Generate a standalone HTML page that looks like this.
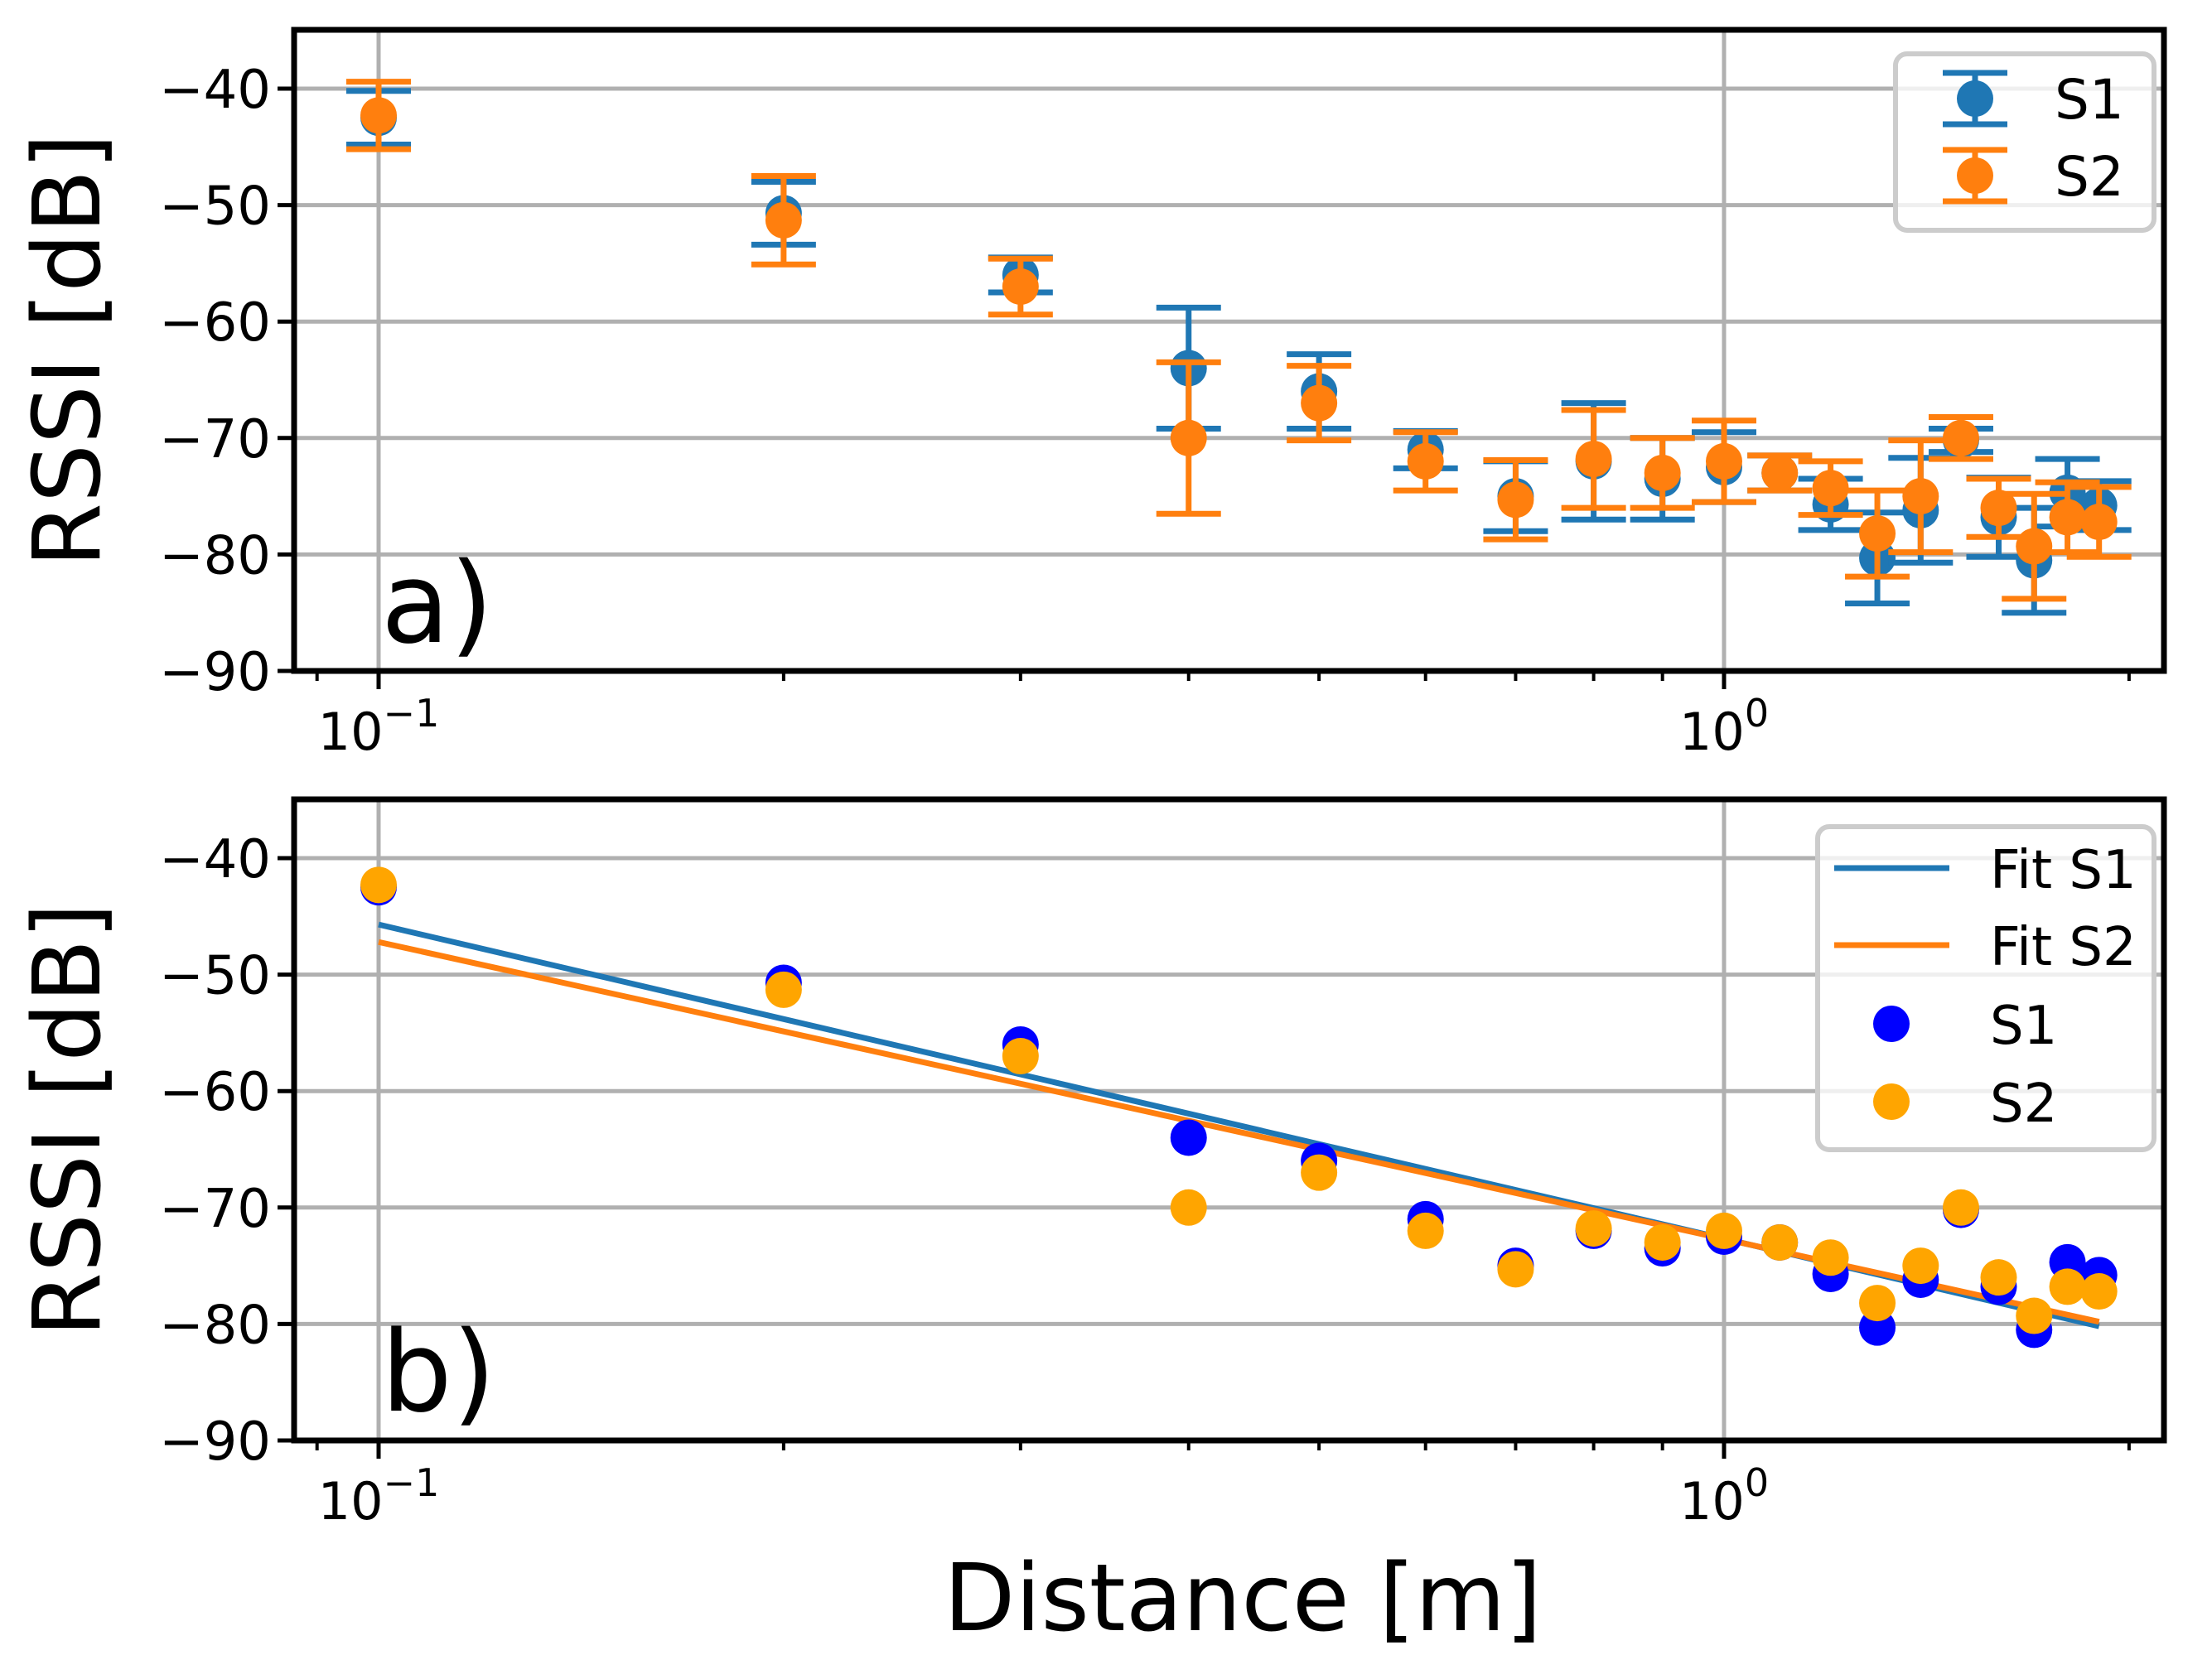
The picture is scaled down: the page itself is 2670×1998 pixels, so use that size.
<!DOCTYPE html>
<html><head><meta charset="utf-8"><style>
html,body{margin:0;padding:0;background:#fff;}
svg{display:block;font-family:"DejaVu Sans","Liberation Sans",sans-serif;}
</style></head><body>
<svg id="fig" width="2670" height="1998" viewBox="0 0 2670 1998" xmlns="http://www.w3.org/2000/svg">
<rect x="0" y="0" width="2670" height="1998" fill="#fff"/>
</svg>
<script>
// ---- data ----
const distances = [0.1,0.2,0.3,0.4,0.5,0.6,0.7,0.8,0.9,1.0,1.1,1.2,1.3,1.4,1.5,1.6,1.7,1.8,1.9];
const s1Mean = [-42.5,-50.7,-56,-64,-66,-71,-75,-72,-73.5,-72.5,-73,-75.7,-80.3,-76.2,-70.2,-76.8,-80.5,-74.7,-75.8];
const s2Mean = [-42.3,-51.3,-57,-70,-67,-72,-75.3,-71.8,-73,-72,-73,-74.3,-78.2,-75,-70,-76,-79.3,-76.8,-77.2];
const s1Err = [2.3,2.7,1.5,5.2,3.2,1.6,3,5,3.5,3,1.5,2.2,3.9,4.5,1,3.4,4.5,2.9,2.1];
const s2Err = [2.9,3.8,2.4,6.5,3.2,2.5,3.4,4.2,3,3.5,1.5,2.3,3.7,4.8,1.8,2.5,4.5,3,3];
const fitS1 = [-72.67,-26.97]; // value at 1 m, slope per decade
const fitS2 = [-72.7,-25.5];
const yTicks = [-40,-50,-60,-70,-80,-90];
const yTickLabels = ["\u221240","\u221250","\u221260","\u221270","\u221280","\u221290"];
const xMajor = [0.1,1];
const xMinor = [0.09,0.2,0.3,0.4,0.5,0.6,0.7,0.8,0.9,2];

const NS="http://www.w3.org/2000/svg";
const svg=document.getElementById('fig');
function mk(tag,attrs,parent){const e=document.createElementNS(NS,tag);for(const k in attrs)e.setAttribute(k,attrs[k]);(parent||svg).appendChild(e);return e;}
const L=355,R=2612;
const xs=d=>457+(Math.log10(d)+1)*1624;
function panel(top,bot,name){
  const ys=v=>top+71+(-40-v)*(bot-top-71)/50;
  const g=mk('g',{});
  
  
  yTicks.forEach((t,i)=>{
    const y=ys(t);
    const gl=mk('line',{x1:L,x2:R,y1:y,y2:y,stroke:'#b0b0b0','stroke-width':5},g);
    
    
    mk('line',{x1:L-20,x2:L,y1:y,y2:y,stroke:'#000','stroke-width':5},g);
    const tx=mk('text',{x:L-28,y:y+23,'text-anchor':'end','font-size':64},g);
    tx.textContent=yTickLabels[i];
    
    
  });
  xMajor.forEach((d,i)=>{
    const x=xs(d);
    const gl=mk('line',{x1:x,x2:x,y1:top,y2:bot,stroke:'#b0b0b0','stroke-width':5},g);
    
    
    mk('line',{x1:x,x2:x,y1:bot,y2:bot+22,stroke:'#000','stroke-width':5},g);
    const tx=mk('text',{x:x,y:bot+95,'text-anchor':'middle','font-size':62},g);
    tx.innerHTML=i==0?'10<tspan dy="-28" font-size="46">\u22121</tspan>':'10<tspan dy="-28" font-size="46">0</tspan>';
    
    
  });
  xMinor.forEach(d=>{const x=xs(d);mk('line',{x1:x,x2:x,y1:bot,y2:bot+12,stroke:'#000','stroke-width':4},g);});
  const yl=mk('text',{x:0,y:0,transform:`translate(120,${(top+bot)/2}) rotate(-90)`,'text-anchor':'middle','font-size':112},g);
  yl.textContent='RSSI [dB]';
  
  
  return {g,ys};
}
// top panel
const A=panel(36,810,'panel-a');
function errorbars(mean,err,color,name){
  distances.forEach((d,i)=>{
    const x=xs(d),y=A.ys(mean[i]),y1=A.ys(mean[i]+err[i]),y2=A.ys(mean[i]-err[i]);
    const g=mk('g',{},A.g);
    
    
    mk('line',{x1:x,x2:x,y1:y1,y2:y2,stroke:color,'stroke-width':7},g);
    mk('line',{x1:x-39,x2:x+39,y1:y1,y2:y1,stroke:color,'stroke-width':7},g);
    mk('line',{x1:x-39,x2:x+39,y1:y2,y2:y2,stroke:color,'stroke-width':7},g);
    mk('circle',{cx:x,cy:y,r:22,fill:color},g);
  });
}
errorbars(s1Mean,s1Err,'#1f77b4','s1-errorbar-point');
errorbars(s2Mean,s2Err,'#ff7f0e','s2-errorbar-point');
mk('rect',{x:L,y:36,width:R-L,height:774,fill:'none',stroke:'#000','stroke-width':7});
const la=mk('text',{x:460,y:775,'font-size':135});la.textContent='a)';

// legend a
const lga=mk('g',{});


mk('rect',{x:2288,y:65,width:312,height:213,rx:14,fill:'#fff','fill-opacity':0.8,stroke:'#cccccc','stroke-width':6},lga);
[['#1f77b4','S1',119],['#ff7f0e','S2',212]].forEach(([c,t,y])=>{
  const e=mk('g',{},lga);
  
  
  mk('line',{x1:2384,x2:2384,y1:y-31,y2:y+31,stroke:c,'stroke-width':7},e);
  mk('line',{x1:2345,x2:2423,y1:y-31,y2:y-31,stroke:c,'stroke-width':7},e);
  mk('line',{x1:2345,x2:2423,y1:y+31,y2:y+31,stroke:c,'stroke-width':7},e);
  mk('circle',{cx:2384,cy:y,r:22,fill:c},e);
  const tx=mk('text',{x:2480,y:y+24,'font-size':66},e);tx.textContent=t;
});
// bottom panel
const B=panel(965,1739,'panel-b');
function fitLine(p,color,name){
  const d0=distances[0],d1=distances[distances.length-1];
  const v=d=>p[0]+p[1]*Math.log10(d);
  const l=mk('line',{x1:xs(d0),y1:B.ys(v(d0)),x2:xs(d1),y2:B.ys(v(d1)),stroke:color,'stroke-width':7},B.g);
  
  
}
fitLine(fitS1,'#1f77b4','fit-s1-line');
fitLine(fitS2,'#ff7f0e','fit-s2-line');
function scatter(mean,color,name){
  distances.forEach((d,i)=>{
    const c=mk('circle',{cx:xs(d),cy:B.ys(mean[i]),r:22,fill:color},B.g);
    
    
  });
}
scatter(s1Mean,'#0000ff','s1-point');
scatter(s2Mean,'#ffa500','s2-point');
mk('rect',{x:L,y:965,width:R-L,height:774,fill:'none',stroke:'#000','stroke-width':7});
const lb=mk('text',{x:460,y:1703,'font-size':135});lb.textContent='b)';

const lgb=mk('g',{});


mk('rect',{x:2194,y:998,width:406,height:390,rx:14,fill:'#fff','fill-opacity':0.8,stroke:'#cccccc','stroke-width':6},lgb);
[['line','#1f77b4','Fit S1',1048],['line','#ff7f0e','Fit S2',1141],['dot','#0000ff','S1',1236],['dot','#ffa500','S2',1330]].forEach(([k,c,t,y])=>{
  const e=mk('g',{},lgb);
  
  
  if(k=='line')mk('line',{x1:2214,x2:2353,y1:y,y2:y,stroke:c,'stroke-width':7},e);
  else mk('circle',{cx:2283,cy:y,r:22,fill:c},e);
  const tx=mk('text',{x:2402,y:y+24,'font-size':64},e);tx.textContent=t;
});
const xl=mk('text',{x:1500,y:1968,'text-anchor':'middle','font-size':112});
xl.textContent='Distance [m]';


</script>
</body></html>
